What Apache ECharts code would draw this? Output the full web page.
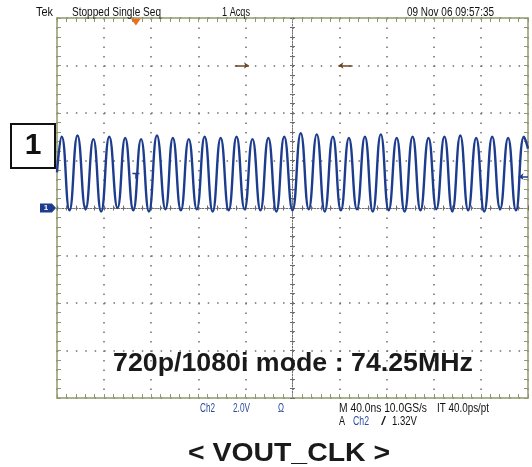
<!DOCTYPE html>
<html><head><meta charset="utf-8">
<script src="https://cdn.jsdelivr.net/npm/echarts@6.0.0/dist/echarts.min.js"></script>
<style>html,body{margin:0;padding:0;background:#fff}#c{width:532px;height:467px}</style>
</head><body><div id="c"></div>
<script>
// ---- data (time in ns relative to screen centre, volts) ----
const peakTimesNs = [-196.0, -182.6, -169.1, -155.6, -142.1, -128.6, -115.1, -101.6, -88.1, -74.6, -61.0, -47.5, -34.0, -20.5, -7.0, 7.0, 20.6, 34.3, 47.9, 61.5, 75.0, 88.5, 102.0, 115.5, 129.0, 142.5, 156.0, 169.6, 183.1, 196.6];
const peakVolts   = [3.0, 3.05, 2.9, 3.0, 2.95, 2.9, 3.05, 2.95, 2.9, 3.0, 2.95, 3.0, 2.9, 2.95, 3.0, 3.15, 3.1, 3.0, 2.95, 3.0, 3.1, 2.95, 3.0, 2.95, 3.0, 3.05, 2.95, 3.0, 2.95, 3.0];
const troughTimesNs = [-189.4, -175.7, -162.5, -148.6, -135.2, -121.9, -107.9, -94.8, -81.3, -67.8, -54.2, -40.7, -27.2, -13.7, 0.0, 13.8, 27.4, 41.1, 54.7, 68.2, 81.7, 95.2, 108.7, 122.2, 135.7, 149.2, 162.8, 176.3, 189.8];
const troughVolts   = [-0.1, -0.05, -0.15, 0.0, -0.1, -0.15, -0.05, -0.1, -0.05, -0.15, -0.1, -0.05, -0.1, -0.15, -0.1, -0.05, -0.15, -0.1, -0.05, -0.15, -0.1, -0.15, -0.1, -0.05, -0.15, -0.1, -0.15, -0.05, -0.1];
const traceStart = [-200, 1.5];
const traceEnd   = [200, 2.5];

const timeAxis = { min: -200, max: 200, div: 40 };   // 40 ns/div, 10 divisions
const voltAxis = { min: -8, max: 8, div: 2 };        // 2.0 V/div, 8 divisions
const triggerTimeNs = -133;
const triggerLevelV = 1.32;
const cursorArrows = [[-49, -37, 6], [51, 39, 6]];

const headerTexts = ['Tek', 'Stopped Single Seq', '1 Acqs', '09 Nov 06 09:57:35'];
const footerTexts1 = ['Ch2', '2.0V', '\u03A9', 'M 40.0ns 10.0GS/s', 'IT 40.0ps/pt'];
const footerTexts2 = ['A', 'Ch2', '/', '1.32V'];
const modeLabel = '720p/1080i mode : 74.25MHz';
const captionLabel = '< VOUT_CLK >';
const channelLabel = '1';

// ---- build trace ----
const trace = [traceStart];
for (let i = 0; i < peakTimesNs.length; i++) {
  trace.push([peakTimesNs[i], peakVolts[i]]);
  if (i < troughTimesNs.length) trace.push([troughTimesNs[i], troughVolts[i]]);
}
trace.push(traceEnd);

const border = '#8f9a6e';
const gridDot = '#6e6e6e';
const traceColor = '#1d3c8e';
const blueText = '#2b4b9b';

function borderAxis(pos, isX, split) {
  return {
    type: 'value', min: isX ? timeAxis.min : voltAxis.min, max: isX ? timeAxis.max : voltAxis.max,
    interval: isX ? timeAxis.div : voltAxis.div, position: pos,
    axisLine: { show: true, onZero: false, lineStyle: { color: border, width: 1.5 } },
    axisTick: { show: true, inside: true, length: 4, lineStyle: { color: border, width: 1 } },
    minorTick: { show: true, splitNumber: 5, length: 4, lineStyle: { color: border, width: 1 } },
    axisLabel: { show: false },
    splitLine: { show: split, lineStyle: { color: gridDot, width: 1.5, type: isX ? [1.5, 8.0] : [1.5, 7.92] } },
    minorSplitLine: { show: false }
  };
}
function centerAxis(pos, isX, inside) {
  return {
    type: 'value', min: isX ? timeAxis.min : voltAxis.min, max: isX ? timeAxis.max : voltAxis.max,
    interval: isX ? timeAxis.div : voltAxis.div, position: pos,
    axisLine: { show: true, onZero: true, onZeroAxisIndex: 0, lineStyle: { color: gridDot, width: 1, type: [1.2, 1.6] } },
    axisTick: { show: true, inside: inside, length: 2.5, lineStyle: { color: gridDot, width: 1 } },
    minorTick: { show: true, splitNumber: 5, length: 2.5, lineStyle: { color: gridDot, width: 1 } },
    axisLabel: { show: false },
    splitLine: { show: false }
  };
}

const ctx = document.createElement('canvas').getContext('2d');
function fitText(str, x, y, w, font, color) {
  ctx.font = font;
  const m = ctx.measureText(str).width || 1;
  return { type: 'text', x: x, y: y, scaleX: w / m, silent: true, z: 100,
    style: { text: str, x: 0, y: 0, font: font, fill: color, align: 'left', verticalAlign: 'middle', textAlign: 'left', textVerticalAlign: 'middle' } };
}
const smallFont = '12px "Liberation Sans", Arial, sans-serif';
const bigFont = 'bold 26px "Liberation Sans", Arial, sans-serif';

const graphics = [
  fitText(headerTexts[0], 36, 12.5, 17, smallFont, '#111'),
  fitText(headerTexts[1], 72, 12.5, 89, smallFont, '#111'),
  fitText(headerTexts[2], 222, 12.5, 28, smallFont, '#111'),
  fitText(headerTexts[3], 407, 12.5, 87, smallFont, '#111'),
  fitText(footerTexts1[0], 200, 409, 15, smallFont, blueText),
  fitText(footerTexts1[1], 233, 409, 17, smallFont, blueText),
  fitText(footerTexts1[2], 278, 409, 6, smallFont, blueText),
  fitText(footerTexts1[3], 339, 409, 88, smallFont, '#111'),
  fitText(footerTexts1[4], 437, 409, 52, smallFont, '#111'),
  fitText(footerTexts2[0], 339, 422, 6, smallFont, '#111'),
  fitText(footerTexts2[1], 353, 422, 16, smallFont, blueText),
  fitText(footerTexts2[2], 381, 422, 5, smallFont, '#111'),
  fitText(footerTexts2[3], 392, 422, 25, smallFont, '#111'),
  fitText(modeLabel, 113, 364, 360, bigFont, '#1a1a1a'),
  fitText(captionLabel, 188, 454, 202, bigFont, '#1a1a1a'),
  { type: 'rect', z: 100, shape: { x: 11, y: 124, width: 44, height: 44 }, style: { fill: '#fff', stroke: '#111', lineWidth: 2 } },
  { type: 'text', z: 101, x: 33, y: 146, style: { text: channelLabel, font: 'bold 30px "Liberation Sans", Arial, sans-serif', fill: '#111', align: 'center', verticalAlign: 'middle', textAlign: 'center', textVerticalAlign: 'middle' } }
];

const chart = echarts.init(document.getElementById('c'), null, { renderer: 'canvas' });
chart.setOption({
  backgroundColor: '#fff',
  animation: false,
  grid: { left: 57, top: 18, width: 471, height: 380, show: false },
  xAxis: [
    borderAxis('bottom', true, true),
    borderAxis('top', true, false),
    centerAxis('bottom', true, true),
    centerAxis('bottom', true, false)
  ],
  yAxis: [
    borderAxis('left', false, true),
    borderAxis('right', false, false),
    centerAxis('left', false, true),
    centerAxis('left', false, false)
  ],
  series: [{
    type: 'line', data: trace, smooth: true, showSymbol: false, symbol: 'none',
    xAxisIndex: 0, yAxisIndex: 0, z: 5,
    lineStyle: { color: traceColor, width: 2.4 },
    markPoint: {
      silent: true, animation: false,
      data: [
        { coord: [triggerTimeNs, voltAxis.max], symbol: 'triangle', symbolRotate: 180, symbolSize: [10, 7], symbolOffset: [0, 4], itemStyle: { color: '#e8701e' }, label: { show: false } },
        { coord: [triggerTimeNs, triggerLevelV], symbol: 'path://M0,0L8,0L8,1.5L0,1.5Z M3.25,0L4.75,0L4.75,6L3.25,6Z', symbolSize: [7, 6], symbolOffset: [0, -1], itemStyle: { color: traceColor }, label: { show: false } },
        { coord: [timeAxis.min, 0], symbol: 'path://M0,0L12,0L16,4L12,8L0,8Z', symbolSize: [16, 9], symbolOffset: [-9, 0], itemStyle: { color: traceColor },
          label: { show: true, position: 'inside', formatter: channelLabel, color: '#fff', fontSize: 8, fontWeight: 'bold', offset: [-2, 0] } }
      ]
    },
    markLine: {
      silent: true, animation: false, symbolSize: 5, label: { show: false },
      data: [
        [{ coord: [192, triggerLevelV], symbol: 'arrow', lineStyle: { color: traceColor, width: 1.5, type: 'solid' } }, { coord: [200, triggerLevelV], symbol: 'none' }],
        [{ coord: [cursorArrows[0][0], cursorArrows[0][2]], symbol: 'none', lineStyle: { color: '#6b4423', width: 1.5, type: 'solid' } }, { coord: [cursorArrows[0][1], cursorArrows[0][2]], symbol: 'arrow' }],
        [{ coord: [cursorArrows[1][0], cursorArrows[1][2]], symbol: 'none', lineStyle: { color: '#6b4423', width: 1.5, type: 'solid' } }, { coord: [cursorArrows[1][1], cursorArrows[1][2]], symbol: 'arrow' }]
      ]
    }
  }],
  graphic: graphics
});
</script>
</body></html>
